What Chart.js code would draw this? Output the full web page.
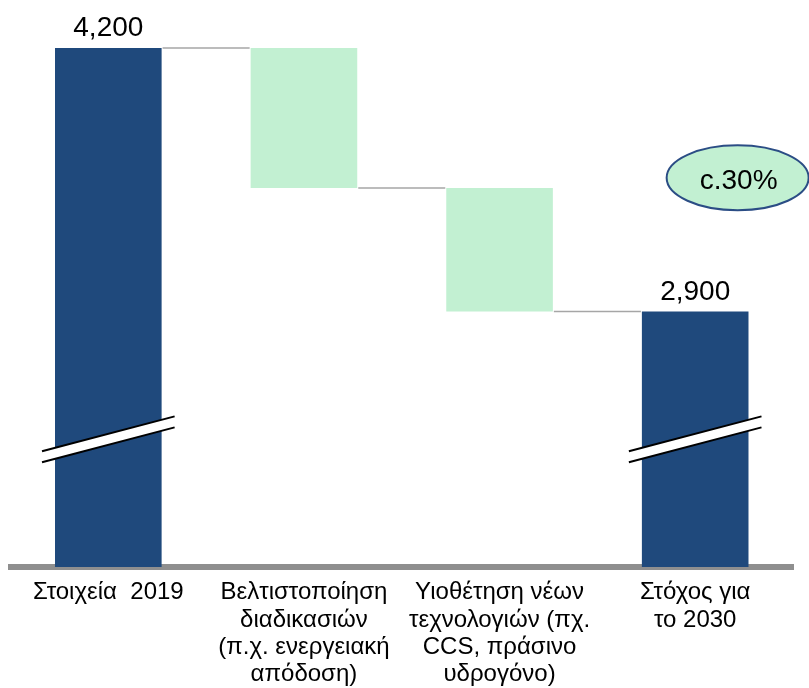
<!DOCTYPE html>
<html lang="el">
<head>
<meta charset="utf-8">
<script src="https://cdn.jsdelivr.net/npm/chart.js@4"></script>
<style>
  html, body { margin: 0; padding: 0; background: #fff; }
  .chart-container { position: relative; width: 809px; height: 688px; }
</style>
</head>
<body>
<div class="chart-container">
  <canvas id="chart"></canvas>
</div>
<script>
// δεδομένα του γραφήματος (καταρράκτης)
const categories = [
  "Στοιχεία  2019",
  ["Βελτιστοποίηση", "διαδικασιών", "(π.χ. ενεργειακή", "απόδοση)"],
  ["Υιοθέτηση νέων", "τεχνολογιών (πχ.", "CCS, πράσινο", "υδρογόνο)"],
  ["Στόχος για", "το 2030"]
];
const totals = [4200, null, null, 2900];
const steps = [null, -690, -610, null];
const valueLabels = ["4,200", null, null, "2,900"];
const reductionLabel = "c.30%";

// σπασμένος άξονας: ξεκινά περίπου από 1640
const AXIS_MIN = 1640;
const AXIS_MAX = 4437;
const BREAK_AT = 2270;

const DARK_BLUE = "#1f497c";
const LIGHT_GREEN = "#c2f0d2";

// χτίζουμε τα floating bars από τα totals/steps
const ranges = [];
let level = 0;
categories.forEach((c, i) => {
  if (totals[i] !== null) {
    level = totals[i];
    ranges.push([AXIS_MIN, totals[i]]);
  } else {
    const next = level + steps[i];
    ranges.push([Math.min(level, next), Math.max(level, next)]);
    level = next;
  }
});
const barColors = totals.map(t => t !== null ? DARK_BLUE : LIGHT_GREEN);

const FONT = "'Liberation Sans', Arial, sans-serif";

// γραμμές σύνδεσης, ετικέτες τιμών, σημάδια διακοπής και έλλειψη
const waterfallExtras = {
  id: "waterfallExtras",
  afterDatasetsDraw(chart) {
    const { ctx, scales: { x, y } } = chart;
    const bars = chart.getDatasetMeta(0).data;
    ctx.save();

    // connectors
    ctx.strokeStyle = "#a6a6a6";
    ctx.lineWidth = 1.5;
    for (let i = 0; i < bars.length - 1; i++) {
      const a = bars[i], b = bars[i + 1];
      const lvl = i === 0 ? ranges[0][1] : (steps[i] < 0 ? ranges[i][0] : ranges[i][1]);
      const py = y.getPixelForValue(lvl);
      ctx.beginPath();
      ctx.moveTo(a.x + a.width / 2 + 1, py);
      ctx.lineTo(b.x - b.width / 2 - 1, py);
      ctx.stroke();
    }

    // breaks on total bars
    bars.forEach((bar, i) => {
      if (totals[i] === null) return;
      const cy = y.getPixelForValue(BREAK_AT);
      const half = bar.width / 2 + 13;
      const slope = 0.263;
      const gap = 5.5;
      const x1 = bar.x - half, x2 = bar.x + half;
      const y1 = cy + half * slope, y2 = cy - half * slope;
      ctx.fillStyle = "#fff";
      ctx.beginPath();
      ctx.moveTo(x1, y1 - gap);
      ctx.lineTo(x2, y2 - gap);
      ctx.lineTo(x2, y2 + gap);
      ctx.lineTo(x1, y1 + gap);
      ctx.closePath();
      ctx.fill();
      ctx.strokeStyle = "#000";
      ctx.lineWidth = 2;
      ctx.beginPath();
      ctx.moveTo(x1, y1 - gap); ctx.lineTo(x2, y2 - gap);
      ctx.moveTo(x1, y1 + gap); ctx.lineTo(x2, y2 + gap);
      ctx.stroke();
    });

    // value labels
    ctx.fillStyle = "#000";
    ctx.font = "28px " + FONT;
    ctx.textAlign = "center";
    ctx.textBaseline = "alphabetic";
    bars.forEach((bar, i) => {
      if (!valueLabels[i]) return;
      ctx.fillText(valueLabels[i], bar.x, bar.y - 12);
    });

    // ellipse with reduction
    const catW = x.getPixelForValue(1) - x.getPixelForValue(0);
    const ex = x.getPixelForValue(3) + 0.217 * catW;
    const ey = y.getPixelForValue(3560);
    ctx.beginPath();
    ctx.ellipse(ex, ey, 71, 32.5, 0, 0, Math.PI * 2);
    ctx.fillStyle = LIGHT_GREEN;
    ctx.fill();
    ctx.strokeStyle = "#2b4d85";
    ctx.lineWidth = 2;
    ctx.stroke();
    ctx.fillStyle = "#000";
    ctx.textBaseline = "middle";
    ctx.fillText(reductionLabel, ex + 1, ey + 3);

    ctx.restore();
  }
};

new Chart(document.getElementById("chart"), {
  type: "bar",
  data: {
    labels: categories,
    datasets: [{
      data: ranges,
      backgroundColor: barColors,
      borderWidth: 0,
      borderSkipped: false,
      barPercentage: 0.545,
      categoryPercentage: 1
    }]
  },
  options: {
    responsive: true,
    maintainAspectRatio: false,
    animation: false,
    layout: { padding: { left: 10.5, right: 16, top: 0, bottom: 0 } },
    plugins: {
      legend: { display: false },
      tooltip: { enabled: false }
    },
    scales: {
      x: {
        z: 1,
        grid: { display: false, drawTicks: false },
        border: { display: true, color: "#8f8f8f", width: 6 },
        ticks: {
          color: "#000",
          padding: 12,
          maxRotation: 0,
          autoSkip: false,
          font: { family: FONT, size: 24, lineHeight: 1.14 }
        },
        afterFit(scale) { scale.height = 121; }
      },
      y: {
        display: false,
        min: AXIS_MIN,
        max: AXIS_MAX
      }
    }
  },
  plugins: [waterfallExtras]
});
</script>
</body>
</html>
